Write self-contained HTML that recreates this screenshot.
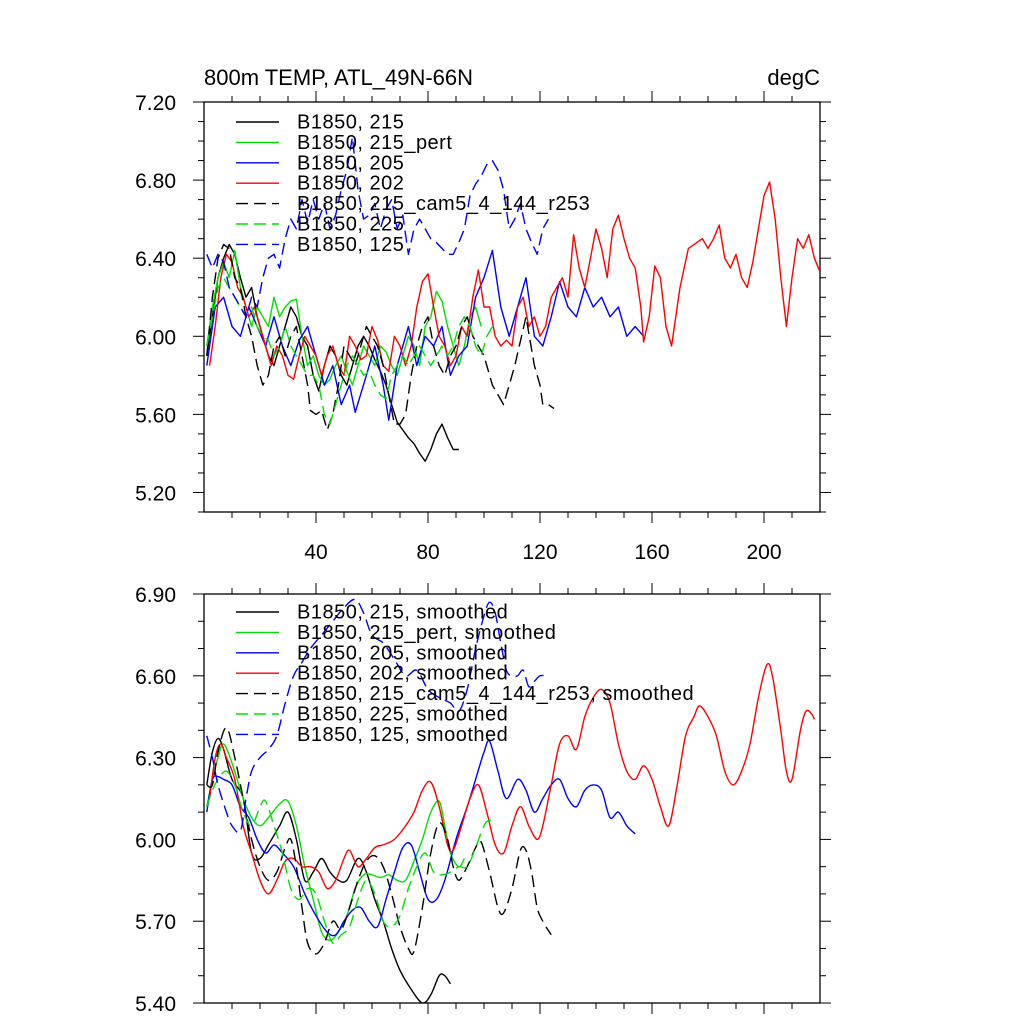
<!DOCTYPE html>
<html><head><meta charset="utf-8"><style>
html,body{margin:0;padding:0;background:#fff;}
svg text{font-family:"Liberation Sans",sans-serif;fill:#000;}
</style></head><body>
<svg id="chart" width="1024" height="1024" viewBox="0 0 1024 1024" xmlns="http://www.w3.org/2000/svg">
<defs>
<clipPath id="clipTop"><rect x="204" y="102" width="616" height="410"/></clipPath>
<clipPath id="clipBot"><rect x="204" y="594" width="616" height="409"/></clipPath>
</defs>
<text x="204" y="85" font-size="22">800m TEMP, ATL_49N-66N</text>
<text x="820" y="85" font-size="22" text-anchor="end">degC</text>
<g id="axes"></g>
<g id="series"></g>
<g id="legends"></g>
</svg>
<script>
// ---- data (x = year, y = degC) ----
const xTicks = [40, 80, 120, 160, 200];
const yTicksTop = [5.2, 5.6, 6.0, 6.4, 6.8, 7.2];
const yTicksBot = [5.4, 5.7, 6.0, 6.3, 6.6, 6.9];

const top215 = [[1,5.9],[3,6.1],[5,6.3],[7,6.4],[9,6.47],[11,6.42],[13,6.3],[15,6.2],[17,6.25],[19,6.1],[21,6.0],[23,5.9],[25,5.85],[27,5.95],[29,6.05],[31,6.15],[33,6.1],[35,6.0],[37,5.95],[39,5.8],[41,5.72],[43,5.85],[45,5.95],[47,5.9],[49,5.8],[51,5.75],[53,5.85],[55,5.95],[57,6.0],[59,5.95],[61,5.88],[63,5.82],[65,5.75],[67,5.65],[69,5.56],[71,5.52],[73,5.48],[75,5.45],[77,5.4],[79,5.36],[81,5.42],[83,5.5],[85,5.55],[87,5.48],[89,5.42],[91,5.42]];
const top215pert = [[1,5.95],[3,6.15],[5,6.3],[7,6.38],[9,6.3],[11,6.44],[13,6.25],[15,6.15],[17,6.05],[19,6.15],[21,6.1],[23,6.05],[25,6.2],[27,6.1],[29,6.15],[31,6.18],[33,6.19],[35,6.0],[37,5.85],[39,5.9],[41,5.8],[43,5.75],[45,5.78],[47,5.85],[49,5.9],[51,5.82],[53,5.75],[55,5.85],[57,5.95],[59,5.9],[61,5.85],[63,5.95],[65,5.92],[67,5.85],[69,5.8],[71,5.9],[73,6.0],[75,5.95],[77,5.85],[79,6.05],[81,6.1],[83,6.23],[85,6.18],[87,6.05],[89,5.95],[91,5.85],[93,5.95],[95,6.1],[97,6.15],[99,6.05]];
const top205 = [[1,5.85],[4,6.15],[7,6.2],[10,6.05],[13,6.0],[16,6.15],[19,6.05],[22,5.95],[25,6.1],[28,5.95],[31,5.85],[34,5.98],[37,6.05],[40,5.9],[43,5.75],[46,5.85],[49,5.65],[52,5.75],[54,5.61],[58,5.8],[61,5.95],[64,5.75],[66,5.57],[69,5.85],[73,6.05],[76,5.85],[79,6.0],[82,5.95],[85,6.05],[88,5.8],[91,5.9],[94,5.95],[97,6.2],[100,6.3],[103,6.44],[106,6.15],[109,6.0],[112,6.15],[115,6.3],[118,6.0],[121,5.95],[124,6.1],[127,6.28],[130,6.15],[133,6.1],[136,6.25],[139,6.15],[142,6.2],[145,6.1],[148,6.15],[151,6.0],[154,6.05],[157,6.0]];
const top202 = [[2,5.85],[4,6.05],[6,6.3],[8,6.42],[10,6.38],[12,6.25],[14,6.2],[16,6.1],[18,6.15],[20,6.05],[22,5.95],[24,5.85],[26,5.95],[28,5.9],[30,5.8],[32,5.78],[34,5.9],[36,6.0],[38,5.95],[40,5.9],[42,5.8],[44,5.9],[46,5.95],[48,5.85],[50,5.8],[52,6.0],[54,5.95],[56,5.88],[58,5.9],[60,6.05],[62,5.98],[64,5.85],[66,5.82],[68,6.0],[70,5.95],[72,5.85],[74,5.95],[76,6.15],[78,6.28],[80,6.32],[82,6.15],[84,6.0],[86,5.95],[88,5.85],[90,5.9],[92,6.05],[94,6.0],[96,6.2],[98,6.34],[100,6.15],[102,6.15],[104,6.0],[106,5.95],[108,5.98],[110,5.95],[112,6.15],[114,6.2],[116,6.05],[118,6.1],[120,6.0],[122,6.05],[124,6.2],[126,6.25],[128,6.3],[130,6.2],[132,6.52],[134,6.35],[136,6.25],[138,6.4],[140,6.55],[142,6.45],[144,6.3],[146,6.55],[148,6.62],[150,6.5],[152,6.4],[154,6.35],[156,6.15],[157,5.97],[159,6.1],[161,6.36],[163,6.3],[165,6.05],[167,5.95],[170,6.25],[173,6.45],[176,6.48],[178,6.5],[180,6.45],[182,6.5],[184,6.57],[186,6.4],[188,6.35],[190,6.42],[192,6.3],[194,6.25],[196,6.38],[198,6.55],[200,6.72],[202,6.79],[204,6.6],[206,6.3],[208,6.05],[210,6.3],[212,6.5],[214,6.45],[216,6.52],[218,6.4],[220,6.33]];
const topCam5 = [[1,5.9],[3,6.2],[5,6.4],[7,6.47],[9,6.45],[11,6.3],[13,6.25],[15,6.1],[17,6.0],[19,5.85],[21,5.75],[23,5.8],[25,5.95],[27,6.0],[29,5.9],[31,6.0],[33,6.05],[35,5.9],[37,5.75],[38,5.62],[40,5.6],[42,5.62],[44,5.52],[46,5.6],[48,5.75],[50,5.95],[52,5.9],[54,5.85],[56,5.95],[58,6.05],[60,6.0],[62,5.95],[64,5.85],[66,5.7],[68,5.55],[70,5.55],[72,5.6],[74,5.8],[76,5.95],[78,6.05],[80,6.1],[82,5.95],[84,5.85],[86,5.8],[88,5.9],[90,5.95],[92,6.05],[94,6.1],[96,6.0],[100,5.9],[103,5.75],[107,5.65],[111,5.85],[115,6.1],[118,5.85],[120,5.75],[121,5.65],[123,5.65],[125,5.63]];
const top225 = [[1,5.95],[3,6.1],[5,6.25],[7,6.3],[9,6.25],[11,6.2],[13,6.15],[15,6.1],[17,6.15],[19,6.05],[21,6.0],[23,5.98],[25,5.9],[27,5.95],[29,6.05],[31,5.95],[33,5.9],[35,5.85],[37,5.8],[39,5.8],[41,5.75],[43,5.6],[45,5.55],[47,5.65],[49,5.75],[51,5.85],[53,5.9],[55,5.85],[57,5.8],[59,5.82],[61,5.75],[63,5.7],[65,5.68],[67,5.8],[69,5.85],[71,5.9],[73,5.85],[75,5.9],[77,5.95],[79,5.9],[81,5.85],[83,5.9],[85,5.95],[87,5.9],[89,5.95],[91,6.05],[93,6.1],[95,6.05],[97,5.95],[99,5.9],[101,6.0],[103,6.05]];
const top125 = [[1,6.42],[3,6.35],[5,6.42],[7,6.38],[9,6.25],[11,6.2],[13,6.15],[15,6.1],[17,6.2],[19,6.15],[21,6.3],[23,6.4],[25,6.42],[27,6.35],[29,6.5],[31,6.6],[33,6.55],[35,6.7],[37,6.58],[39,6.7],[41,6.6],[43,6.68],[45,6.55],[47,6.62],[49,6.75],[51,6.85],[53,7.02],[55,6.75],[57,6.6],[59,6.62],[61,6.68],[63,6.55],[65,6.65],[67,6.7],[69,6.55],[71,6.62],[73,6.42],[75,6.55],[77,6.6],[79,6.55],[81,6.5],[83,6.48],[85,6.45],[87,6.42],[89,6.42],[91,6.48],[93,6.55],[95,6.72],[97,6.78],[99,6.82],[101,6.88],[103,6.9],[105,6.85],[107,6.75],[109,6.55],[111,6.6],[113,6.68],[115,6.55],[117,6.48],[119,6.42],[121,6.55],[123,6.6]];

const bot215 = [[1,6.2],[3,6.32],[5,6.37],[7,6.33],[10,6.22],[14,6.15],[17,5.95],[20,5.93],[23,5.98],[27,6.05],[30,6.1],[33,6.0],[36,5.85],[39,5.88],[42,5.93],[45,5.88],[48,5.85],[51,5.85],[55,5.93],[58,5.88],[61,5.78],[64,5.7],[67,5.6],[70,5.52],[74,5.45],[78,5.4],[81,5.43],[84,5.5],[86,5.5],[88,5.47]];
const bot215pert = [[1,6.12],[3,6.22],[5,6.3],[7,6.35],[10,6.28],[14,6.15],[17,6.08],[20,6.05],[23,6.08],[27,6.13],[30,6.14],[33,6.05],[36,5.9],[39,5.78],[42,5.66],[45,5.63],[48,5.66],[51,5.72],[54,5.82],[57,5.87],[60,5.87],[63,5.86],[66,5.87],[69,5.85],[72,5.85],[75,5.92],[78,6.0],[81,6.1],[84,6.14],[86,6.05],[88,5.95],[91,5.9],[93,5.93]];
const bot205 = [[1,6.1],[3,6.22],[5,6.23],[7,6.22],[10,6.2],[13,6.12],[16,6.08],[19,6.0],[22,5.95],[25,5.98],[28,5.95],[32,5.9],[36,5.8],[40,5.72],[44,5.66],[47,5.65],[50,5.7],[53,5.74],[56,5.75],[59,5.7],[62,5.68],[65,5.78],[68,5.88],[71,5.97],[74,5.98],[77,5.88],[80,5.78],[83,5.78],[86,5.85],[90,6.0],[94,6.12],[97,6.22],[100,6.32],[102,6.36],[105,6.25],[108,6.15],[112,6.22],[115,6.18],[118,6.1],[121,6.15],[124,6.2],[127,6.22],[130,6.15],[133,6.12],[136,6.18],[139,6.2],[142,6.18],[145,6.08],[148,6.1],[151,6.05],[154,6.02]];
const bot202 = [[2,6.15],[4,6.3],[6,6.35],[8,6.3],[11,6.22],[14,6.05],[17,5.95],[20,5.85],[23,5.8],[26,5.85],[29,5.92],[32,5.93],[35,5.9],[38,5.9],[41,5.88],[44,5.82],[47,5.85],[50,5.93],[52,5.96],[55,5.9],[58,5.93],[61,5.97],[64,5.98],[68,6.0],[72,6.05],[75,6.1],[78,6.18],[81,6.21],[84,6.12],[87,5.98],[89,5.96],[92,6.05],[95,6.15],[98,6.2],[101,6.1],[104,5.98],[107,5.95],[110,6.05],[113,6.12],[116,6.05],[119,6.0],[121,6.05],[124,6.2],[127,6.35],[130,6.38],[133,6.33],[136,6.45],[139,6.52],[142,6.55],[145,6.5],[148,6.35],[151,6.25],[154,6.22],[157,6.27],[160,6.22],[163,6.12],[166,6.05],[169,6.2],[172,6.38],[175,6.45],[177,6.49],[180,6.45],[183,6.38],[186,6.25],[189,6.2],[192,6.25],[195,6.35],[198,6.52],[201,6.64],[203,6.6],[206,6.4],[208,6.25],[210,6.22],[213,6.4],[215,6.47],[217,6.46],[218,6.44]];
const botCam5 = [[1,6.2],[3,6.2],[5,6.32],[8,6.41],[11,6.3],[14,6.15],[17,6.0],[20,5.9],[23,5.85],[26,5.88],[29,5.97],[31,6.0],[33,5.9],[35,5.75],[37,5.62],[40,5.58],[43,5.62],[46,5.7],[49,5.67],[52,5.75],[55,5.85],[58,5.92],[61,5.94],[64,5.9],[67,5.8],[70,5.68],[73,5.6],[75,5.59],[78,5.75],[81,5.95],[84,6.06],[87,6.0],[89,5.9],[91,5.85],[94,5.9],[97,5.97],[99,5.99],[102,5.88],[105,5.75],[107,5.73],[110,5.82],[113,5.96],[115,5.96],[117,5.88],[119,5.75],[121,5.7],[124,5.65]];
const bot225 = [[1,6.12],[3,6.18],[5,6.22],[8,6.25],[11,6.2],[14,6.1],[17,6.05],[20,6.12],[22,6.14],[25,6.05],[28,5.95],[31,5.82],[34,5.78],[37,5.82],[40,5.8],[43,5.7],[46,5.62],[49,5.65],[52,5.68],[55,5.78],[58,5.85],[61,5.8],[64,5.7],[67,5.68],[70,5.72],[73,5.82],[76,5.9],[79,5.95],[82,5.88],[85,5.87],[88,5.88],[91,5.9],[94,5.9],[97,5.97],[100,6.05],[102,6.07],[104,6.06]];
const bot125 = [[1,6.38],[3,6.3],[5,6.2],[8,6.1],[10,6.05],[13,6.03],[15,6.15],[17,6.25],[20,6.3],[23,6.33],[26,6.38],[29,6.5],[32,6.6],[35,6.65],[38,6.7],[42,6.75],[46,6.8],[50,6.85],[54,6.88],[57,6.83],[60,6.75],[64,6.72],[68,6.66],[72,6.6],[76,6.62],[80,6.55],[84,6.52],[88,6.5],[91,6.47],[94,6.55],[97,6.7],[100,6.82],[102,6.87],[104,6.83],[106,6.72],[108,6.62],[110,6.6],[112,6.6],[114,6.62],[116,6.56],[118,6.58],[120,6.6],[122,6.6]];

const legendTop = ["B1850, 215","B1850, 215_pert","B1850, 205","B1850, 202","B1850, 215_cam5_4_144_r253","B1850, 225","B1850, 125"];
const legendBot = ["B1850, 215, smoothed","B1850, 215_pert, smoothed","B1850, 205, smoothed","B1850, 202, smoothed","B1850, 215_cam5_4_144_r253, smoothed","B1850, 225, smoothed","B1850, 125, smoothed"];

// ---- layout ----
const NS = "http://www.w3.org/2000/svg";
const X0 = 204, X1 = 820, XMIN = 0, XMAX = 220;
const panels = [
  {key:"top", top:102, bottom:512, ymin:5.1, ymax:7.2, ticks:yTicksTop, minor:0.1, fmt:2, clip:"clipTop",
   series:[top215,top215pert,top205,top202,topCam5,top225,top125], smooth:false, legend:legendTop, legY:122, xLabels:true},
  {key:"bottom", top:594, bottom:1003, ymin:5.4, ymax:6.9, ticks:yTicksBot, minor:0.1, fmt:2, clip:"clipBot",
   series:[bot215,bot215pert,bot205,bot202,botCam5,bot225,bot125], smooth:true, legend:legendBot, legY:612, xLabels:false}
];
const colors = ["#000","#00e000","#0000ff","#ff0000","#000","#00e000","#0000ff"];
const dashed = [false,false,false,false,true,true,true];
const sNames = ["b1850-215","b1850-215-pert","b1850-205","b1850-202","b1850-215-cam5","b1850-225","b1850-125"];

function xs(v){ return X0 + (v - XMIN) / (XMAX - XMIN) * (X1 - X0); }
function ysFor(p){ return v => p.bottom - (v - p.ymin) / (p.ymax - p.ymin) * (p.bottom - p.top); }
function mk(tag, attrs, parent){ const e=document.createElementNS(NS,tag); for(const k in attrs) e.setAttribute(k,attrs[k]); parent.appendChild(e); return e; }

const axesG = document.getElementById("axes");
const serG = document.getElementById("series");
const legG = document.getElementById("legends");

function linePath(pts){ return pts.map((p,i)=>(i?"L":"M")+p[0].toFixed(1)+","+p[1].toFixed(1)).join(""); }
function smoothPath(pts){
  let d="M"+pts[0][0].toFixed(1)+","+pts[0][1].toFixed(1);
  for(let i=0;i<pts.length-1;i++){
    const p0=pts[Math.max(i-1,0)],p1=pts[i],p2=pts[i+1],p3=pts[Math.min(i+2,pts.length-1)];
    const c1=[p1[0]+(p2[0]-p0[0])/6,p1[1]+(p2[1]-p0[1])/6];
    const c2=[p2[0]-(p3[0]-p1[0])/6,p2[1]-(p3[1]-p1[1])/6];
    d+="C"+c1[0].toFixed(1)+","+c1[1].toFixed(1)+" "+c2[0].toFixed(1)+","+c2[1].toFixed(1)+" "+p2[0].toFixed(1)+","+p2[1].toFixed(1);
  }
  return d;
}

panels.forEach(p=>{
  const ys = ysFor(p);
  const frame = mk("rect",{x:X0,y:p.top,width:X1-X0,height:p.bottom-p.top,fill:"none",stroke:"#000","stroke-width":1.3},axesG);
  
  
  for(let v=10; v<XMAX; v+=10){
    const major = xTicks.includes(v);
    const L = major ? 11 : 6;
    const x = xs(v);
    mk("line",{x1:x,x2:x,y1:p.bottom,y2:p.bottom+L,stroke:"#000","stroke-width":1},axesG);
    mk("line",{x1:x,x2:x,y1:p.top,y2:p.top-L,stroke:"#000","stroke-width":1},axesG);
  }
  if(p.xLabels){
    xTicks.forEach(v=>{
      const t = mk("text",{x:xs(v),y:p.bottom+47,"font-size":21,"text-anchor":"middle"},axesG);
      t.textContent = v;
      
      
    });
  }
  const nMinor = Math.round((p.ymax-p.ymin)/p.minor);
  for(let i=0;i<=nMinor;i++){
    const v = p.ymin + i*p.minor;
    const major = p.ticks.some(t=>Math.abs(t-v)<1e-6);
    const L = major ? 11 : 6;
    const y = ys(v);
    mk("line",{x1:X0,x2:X0-L,y1:y,y2:y,stroke:"#000","stroke-width":1},axesG);
    mk("line",{x1:X1,x2:X1+L,y1:y,y2:y,stroke:"#000","stroke-width":1},axesG);
  }
  p.ticks.forEach(v=>{
    const t = mk("text",{x:176,y:ys(v)+8,"font-size":21,"text-anchor":"end"},axesG);
    t.textContent = v.toFixed(p.fmt);
    
    
  });
  const g = mk("g",{"clip-path":"url(#"+p.clip+")"},serG);
  p.series.forEach((s,i)=>{
    const pts = s.map(d=>[xs(d[0]), ys(d[1])]);
    const path = mk("path",{d:p.smooth?smoothPath(pts):linePath(pts),fill:"none",stroke:colors[i],"stroke-width":1.4,"stroke-linejoin":"round"},g);
    if(dashed[i]) path.setAttribute("stroke-dasharray","12,6");
    
    
  });
  p.legend.forEach((lab,i)=>{
    const y = p.legY + i*20.4;
    const ln = mk("line",{x1:236,x2:279,y1:y,y2:y,stroke:colors[i],"stroke-width":1.4},legG);
    if(dashed[i]) ln.setAttribute("stroke-dasharray","12,6");
    
    
    const t = mk("text",{x:297,y:y+6.5,"font-size":20,"letter-spacing":0.5},legG);
    t.textContent = lab;
    
    
  });
});
</script>
</body></html>
